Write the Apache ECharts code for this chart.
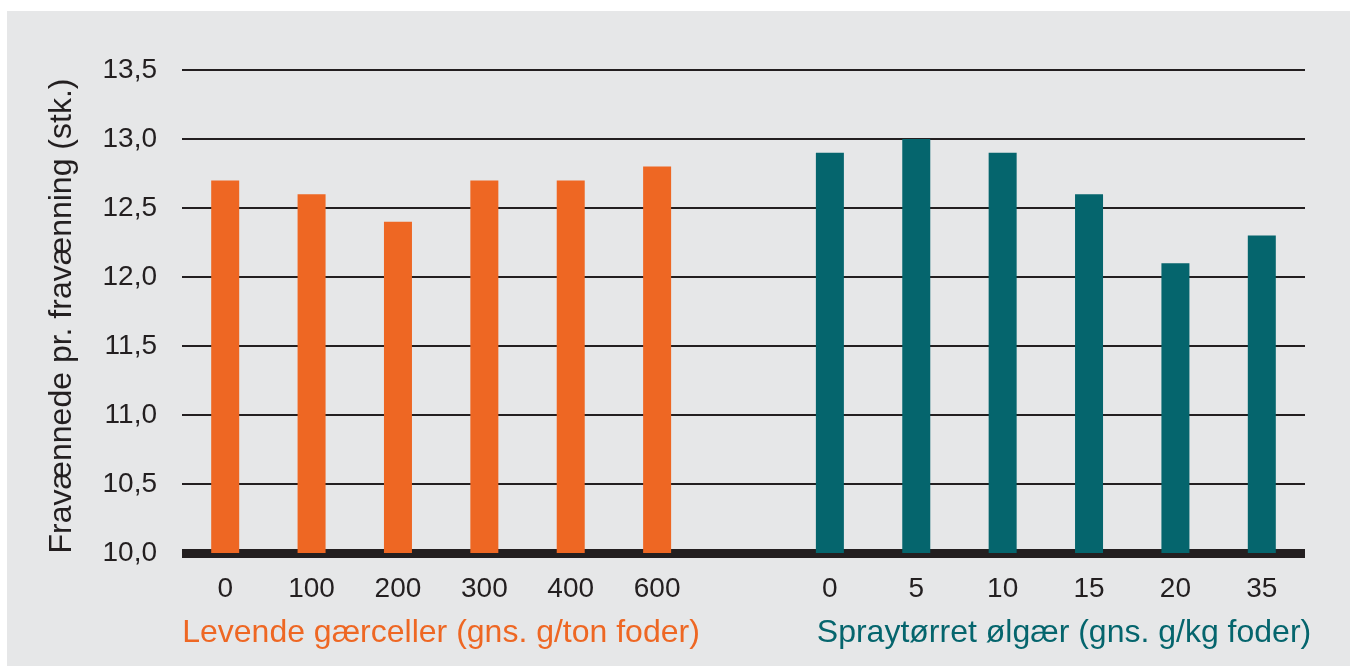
<!DOCTYPE html>
<html>
<head>
<meta charset="utf-8">
<script src="https://cdn.jsdelivr.net/npm/echarts@6/dist/echarts.min.js"></script>
<style>
  html, body { margin: 0; padding: 0; background: #ffffff; }
  #chart { width: 1350px; height: 666px; }
</style>
</head>
<body>
<div id="chart"></div>
<script>
// Doses per group; the blank slot separates the two yeast products
const categories = ['0', '100', '200', '300', '400', '600', '', '0', '5', '10', '15', '20', '35'];
const levendeValues = [12.7, 12.6, 12.4, 12.7, 12.7, 12.8, '-', '-', '-', '-', '-', '-', '-'];
const sprayValues = ['-', '-', '-', '-', '-', '-', '-', 12.9, 13.0, 12.9, 12.6, 12.1, 12.3];
const yTicks = { min: 10, max: 13.5, step: 0.5 };
const yTitle = 'Fravænnede pr. fravænning (stk.)';
const groupTitles = ['Levende gærceller (gns. g/ton foder)', 'Spraytørret ølgær (gns. g/kg foder)'];

const ORANGE = '#ee6723';
const TEAL = '#05656d';
const INK = '#231f20';
const FONT = '"Liberation Sans", Arial, sans-serif';

const chart = echarts.init(document.getElementById('chart'), null, { renderer: 'canvas' });

chart.setOption({
  animation: false,
  textStyle: { fontFamily: FONT },
  grid: { left: 182, right: 45, top: 70, bottom: 113 },
  xAxis: {
    type: 'category',
    data: categories,
    axisLine: { show: true, lineStyle: { color: INK, width: 9, cap: 'butt' } },
    axisTick: { show: false },
    axisLabel: { color: INK, fontSize: 28, fontFamily: FONT, margin: 22, interval: 0 },
    splitLine: { show: false }
  },
  yAxis: {
    type: 'value',
    min: yTicks.min,
    max: yTicks.max,
    interval: yTicks.step,
    axisLine: { show: false },
    axisTick: { show: false },
    axisLabel: {
      color: INK, fontSize: 28, fontFamily: FONT, margin: 25,
      formatter: v => v.toFixed(1).replace('.', ',')
    },
    splitLine: { show: true, lineStyle: { color: INK, width: 2 } }
  },
  graphic: [
    { type: 'rect', z: -10, silent: true,
      shape: { x: 7, y: 11, width: 1343, height: 655 },
      style: { fill: '#e6e7e8' } },
    { type: 'text', x: 62, y: 316, rotation: Math.PI / 2,
      style: { text: yTitle, fill: INK, font: '32px ' + FONT, align: 'center', verticalAlign: 'middle' } },
    { type: 'text', x: 441, y: 633,
      style: { text: groupTitles[0], fill: ORANGE, font: '32px ' + FONT, align: 'center', verticalAlign: 'middle' } },
    { type: 'text', x: 1064, y: 633,
      style: { text: groupTitles[1], fill: TEAL, font: '32px ' + FONT, align: 'center', verticalAlign: 'middle' } }
  ],
  series: [
    { name: groupTitles[0], type: 'bar', data: levendeValues, barWidth: 28, barGap: '-100%',
      itemStyle: { color: ORANGE } },
    { name: groupTitles[1], type: 'bar', data: sprayValues, barWidth: 28, barGap: '-100%',
      itemStyle: { color: TEAL } }
  ]
});
</script>
</body>
</html>
